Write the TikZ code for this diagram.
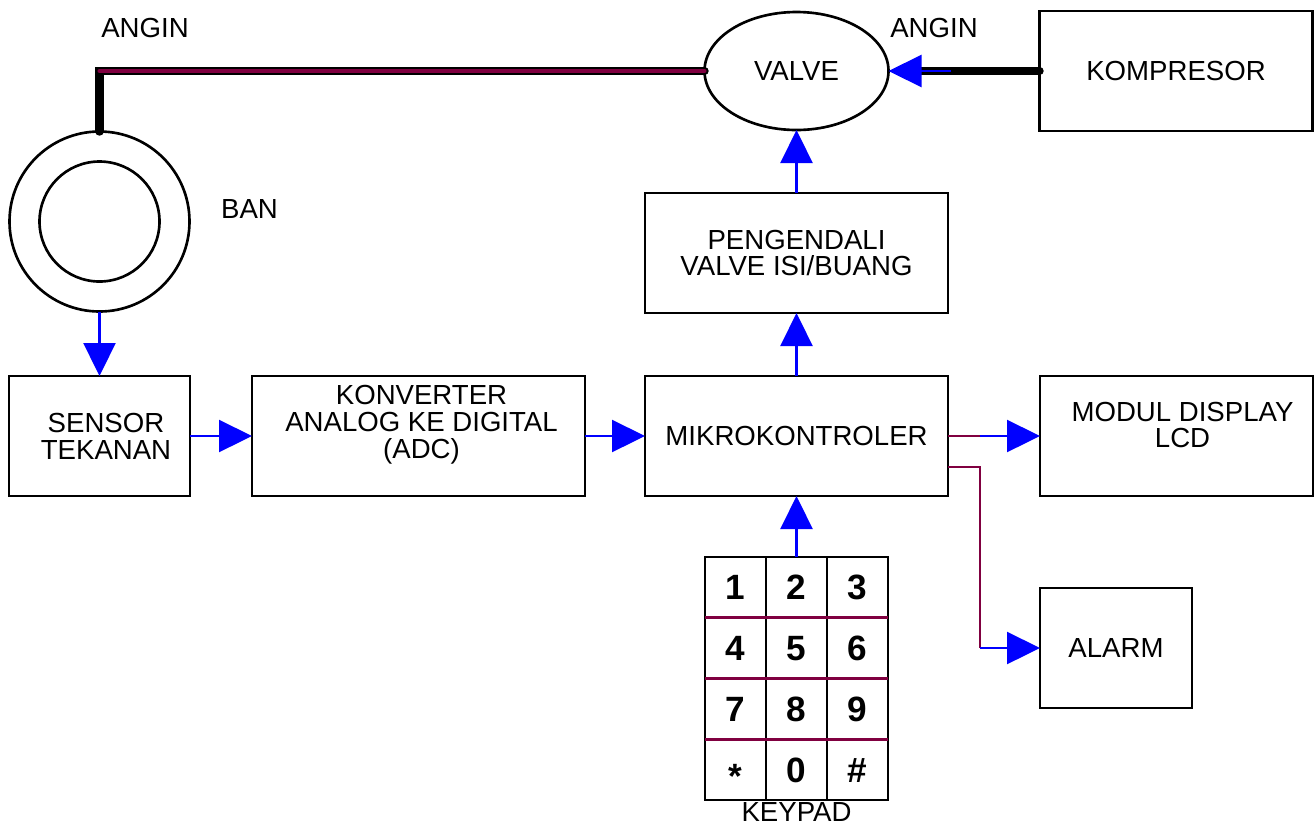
\documentclass[tikz,border=0pt]{standalone}
\usepackage{fontspec}
\setmainfont{Liberation Sans}
\usetikzlibrary{arrows.meta,positioning,shapes.geometric}
\definecolor{signal}{HTML}{0000FF}
\definecolor{wire}{HTML}{800040}

\begin{document}
\begin{tikzpicture}[font=\fontsize{15.7}{15.3}\selectfont,box/.style={draw,line width=1.5pt,
minimum height=24mm,inner sep=0pt,outer sep=0pt,align=center},arr/.style={-{Triangle[length=6.6mm,width=6.4mm]},
color=signal,line width=1.3pt},bus/.style={color=wire,line width=1.3pt},
pipe/.style={line width=4.8pt,line cap=round},
keycap/.style={font=\fontsize{20}{20}\selectfont\bfseries,inner sep=0pt,text height=14.3pt,text depth=0pt}]
\useasboundingbox (0,0) rectangle (262.8mm,-165mm);
% measurement chain
\node[box,minimum width=36.2mm] (sensor) at (19.9mm,-87.2mm) {};
\node[align=center] (sensortext) at ([xshift=1.3mm]sensor.center) {SENSOR\\TEKANAN};
\node[box,minimum width=66.6mm,right=12.4mm of sensor] (adc) {};
\node[align=center] (adctext) at ([xshift=0.6mm,yshift=2.2mm]adc.center) {KONVERTER\\ANALOG KE DIGITAL\\(ADC)};
\node[box,minimum width=60.6mm,right=12mm of adc] (mikro) {MIKROKONTROLER};
\node[box,minimum width=54.6mm,right=18.4mm of mikro] (lcd) {};
\node[align=center] (lcdtext) at ([xshift=1.2mm,yshift=2.2mm]lcd.center) {MODUL DISPLAY\\LCD};
\node[box,minimum width=30.4mm,below=18.4mm of lcd.south west,anchor=north west] (alarm) {ALARM};
% valve side
\node[box,minimum width=60.6mm,above=12.6mm of mikro] (peng) {PENGENDALI\\VALVE ISI/BUANG};
\node[draw,ellipse,line width=1.5pt,minimum width=36.8mm,minimum height=23.6mm,inner sep=0pt,outer sep=0pt,
above=12.6mm of peng] (valve) {VALVE};
\node[box,minimum width=54.6mm,right=30.2mm of valve] (komp) {KOMPRESOR};
% tyre
\node[draw,circle,line width=1.5pt,outer sep=0pt,minimum size=36mm,above=12.9mm of sensor] (tire) {};
\node[draw,circle,line width=1.5pt,minimum size=24mm] (rim) at (tire.center) {};
% keypad
\node[draw,line width=1.5pt,minimum width=36.6mm,minimum height=48.6mm,inner sep=0pt,outer sep=0pt,
below=12.2mm of mikro] (keypad) {};
\foreach \c in {1,2}
  \draw[line width=1.5pt] ([xshift=\c*12.2mm]keypad.north west) -- ([xshift=\c*12.2mm]keypad.south west);
\foreach \r in {1,2,3}
  \draw[bus,line width=1.5pt] ([yshift=-\r*12.15mm]keypad.north west) -- ([yshift=-\r*12.15mm]keypad.north east);
\foreach \key/\col/\row in {1/0/0,2/1/0,3/2/0,4/0/1,5/1/1,6/2/1,7/0/2,8/1/2,9/2/2,0/1/3,\#/2/3}
  \node[keycap] (key\col\row) at ([xshift=\col*12.2mm+6.1mm,yshift=-\row*12.15mm-6.075mm]keypad.north west) {\key};
\node[keycap] (key03) at ([xshift=6.1mm,yshift=-42.525mm]keypad.north west) {\raisebox{-.18em}{*}};
% labels
\node[anchor=base] (anginin) at (29mm,-7.4mm) {ANGIN};
\node[anchor=base] (anginout) at (186.8mm,-7.4mm) {ANGIN};
\node[anchor=base] (ban) at (49.9mm,-43.6mm) {BAN};
\node[anchor=base] (kplabel) at ([yshift=-4.2mm]keypad.south) {KEYPAD};
% air lines
\draw[pipe] (tire.north) |- (valve.west);
\draw[wire,line width=2.3pt,line cap=round] (tire.north |- valve.west) -- (valve.west);
\draw[pipe] (komp.west) -- ([xshift=6.6mm]valve.east);
\draw[arr] ([xshift=12.4mm]valve.east) -- (valve.east);
% signals
\draw[arr] (tire.south) -- (sensor.north);
\draw[arr] (sensor) -- (adc);
\draw[arr] (adc) -- (mikro);
\draw[arr] (mikro) -- (peng);
\draw[arr] (peng) -- (valve);
\draw[arr] (keypad) -- (mikro);
\draw[bus] (mikro.east) -- ++(6.4mm,0) coordinate (lcdtap);
\draw[arr] (lcdtap) -- (lcd.west);
\coordinate (alarmtap) at (lcdtap |- alarm.west);
\draw[bus] ([yshift=-6.2mm]mikro.east) -| (alarmtap);
\draw[arr] (alarmtap) -- (alarm.west);
\end{tikzpicture}
\end{document}
